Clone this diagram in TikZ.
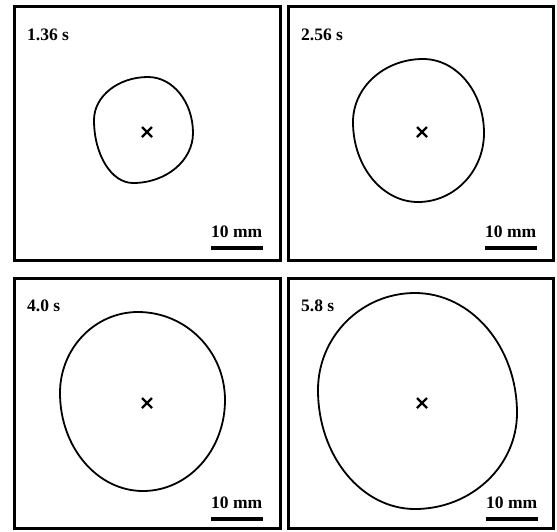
\documentclass[tikz,border=0pt]{standalone}
\usepackage{fontspec}
\setmainfont{Liberation Serif}
\newcommand\eggshape[8]{% top x,y; right x,y; bottom x,y; left x,y
  \draw[blob] (#1,#2) .. controls ({#1+0.5523*(#3-#1)},#2) and (#3,{#4-0.5523*(#4-#2)}) .. (#3,#4)
   .. controls (#3,{#4+0.5523*(#6-#4)}) and ({#5+0.5523*(#3-#5)},#6) .. (#5,#6)
   .. controls ({#5-0.5523*(#5-#7)},#6) and (#7,{#8+0.5523*(#6-#8)}) .. (#7,#8)
   .. controls (#7,{#8-0.5523*(#8-#2)}) and ({#1-0.5523*(#1-#7)},#2) .. cycle;}
\begin{document}
\begin{tikzpicture}[x=1pt,y=-1pt,
  panel/.style={draw=black,line width=3pt},
  blob/.style={draw=black,line width=1.8pt},
  lbl/.style={anchor=base west,inner sep=0pt,font=\fontsize{17.5}{17.5}\selectfont\bfseries},
  cross/.style={line width=2.4pt},
  bar/.style={line width=4pt}]
\useasboundingbox (0,0) rectangle (557,531);
\fill[white] (0,0) rectangle (557,531);
% panels
\draw[panel] (14.5,6.5) rectangle (280.5,260.5);
\draw[panel] (288.5,6.5) rectangle (553.5,260.5);
\draw[panel] (14.5,278.5) rectangle (280.5,528.5);
\draw[panel] (288.5,278.5) rectangle (553.5,528.5);
% time labels
\node[lbl] (t1) at (27,40) {1.36 s};
\node[lbl] (t2) at (301,40) {2.56 s};
\node[lbl] (t3) at (27,311) {4.0 s};
\node[lbl] (t4) at (301,311) {5.8 s};
% blobs
\eggshape{148}{77}{193}{133}{133}{183}{94}{120}
\eggshape{423}{59}{484}{133}{418}{202}{353}{122}
\eggshape{138}{312}{225}{400}{143}{491}{60}{393}
\eggshape{415}{293}{517}{413}{415}{509}{318}{390}
% crosses
\foreach \cx/\cy/\n in {147/132/a,422/132/b,147/403/c,422/403/d}{
  \coordinate (c\n) at (\cx,\cy);
  \draw[cross] ([shift={(-5,-5)}]c\n) -- ([shift={(5,5)}]c\n);
  \draw[cross] ([shift={(-5,5)}]c\n) -- ([shift={(5,-5)}]c\n);
}
% scale bars
\foreach \sx/\sy/\n in {211/237/a,485/237/b,211/508/c,486/508/d}{
  \node[lbl] (s\n) at (\sx,\sy) {10 mm};
  \draw[bar] (s\n.base west) ++(0,11) coordinate (b\n l) -- ++(52,0) coordinate (b\n r);
}
\end{tikzpicture}
\end{document}
